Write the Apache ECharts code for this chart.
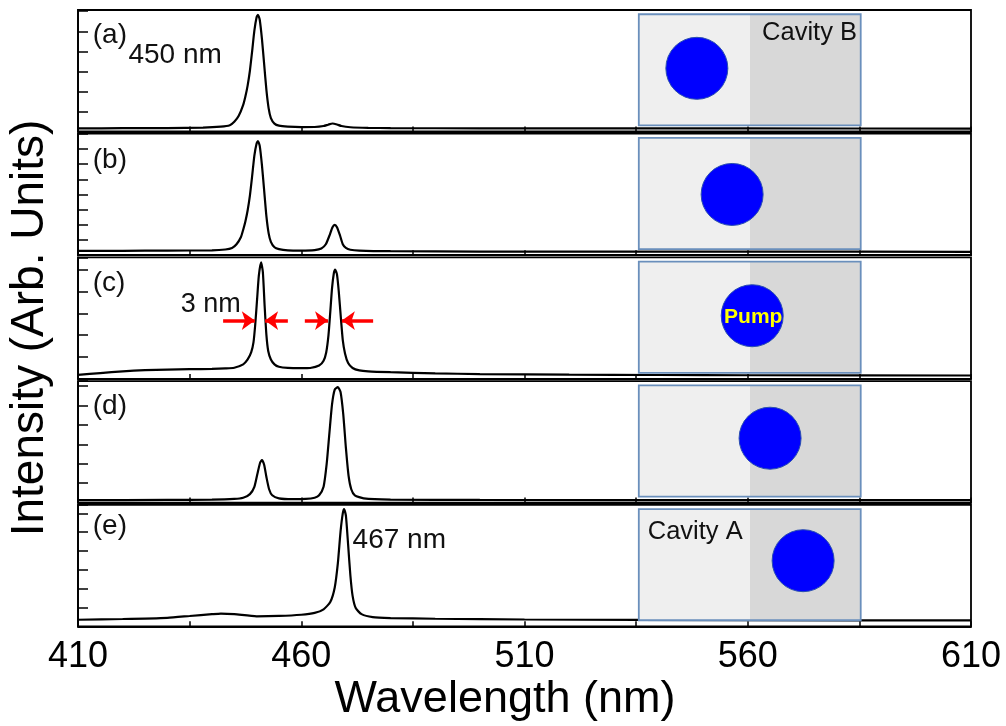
<!DOCTYPE html>
<html>
<head>
<meta charset="utf-8">
<script src="https://cdn.jsdelivr.net/npm/echarts@6/dist/echarts.min.js"></script>
<style>
  html, body { margin: 0; padding: 0; background: #fff; }
  #main { width: 1006px; height: 726px; }
</style>
</head>
<body>
<div id="main"></div>
<script>
// 光谱数据 (读图估计, 归一化强度)
var waveA = [410, 420, 430, 438, 442, 444, 445, 446, 447, 447.5, 448, 448.5, 449, 449.5, 450, 450.3, 450.7, 451.2, 451.7, 452.2, 452.7, 453.2, 454, 455, 457, 460, 463, 465, 466, 467, 468, 469, 471, 475, 480, 500, 530, 560, 610];
var intA  = [0.025, 0.027, 0.028, 0.032, 0.04, 0.052, 0.08, 0.13, 0.22, 0.29, 0.38, 0.5, 0.66, 0.83, 0.94, 0.96, 0.92, 0.76, 0.55, 0.34, 0.19, 0.11, 0.065, 0.048, 0.04, 0.036, 0.037, 0.045, 0.056, 0.066, 0.058, 0.045, 0.035, 0.03, 0.028, 0.026, 0.025, 0.025, 0.024];

var waveB = [410, 420, 430, 440, 443, 444.5, 445.5, 446.5, 447, 447.5, 448, 448.5, 449, 449.5, 450, 450.3, 450.7, 451.2, 451.7, 452.2, 452.7, 453.2, 454, 455, 457, 460, 463, 464.5, 465.5, 466.3, 467, 467.5, 468, 468.7, 469.3, 470, 471, 473, 480, 500, 530, 560, 610];
var intB  = [0.035, 0.036, 0.038, 0.04, 0.047, 0.06, 0.09, 0.15, 0.21, 0.28, 0.37, 0.49, 0.65, 0.82, 0.92, 0.94, 0.9, 0.74, 0.53, 0.32, 0.18, 0.11, 0.065, 0.05, 0.04, 0.038, 0.042, 0.055, 0.09, 0.16, 0.23, 0.25, 0.23, 0.16, 0.09, 0.06, 0.045, 0.038, 0.033, 0.03, 0.03, 0.03, 0.028];

var waveC = [410, 415, 420, 425, 430, 435, 440, 443, 445, 447, 448, 448.8, 449.3, 449.7, 450.1, 450.5, 451, 451.4, 451.8, 452.2, 452.6, 453.2, 454, 455, 457, 460, 462, 464, 465, 465.6, 466.1, 466.5, 466.9, 467.3, 467.6, 468, 468.4, 468.9, 469.3, 469.8, 470.5, 471.5, 473, 475, 480, 490, 500, 520, 540, 560, 610];
var intC  = [0.033, 0.048, 0.062, 0.072, 0.077, 0.08, 0.082, 0.086, 0.092, 0.12, 0.16, 0.22, 0.3, 0.45, 0.65, 0.85, 0.96, 0.88, 0.6, 0.36, 0.23, 0.16, 0.12, 0.1, 0.09, 0.088, 0.09, 0.11, 0.15, 0.22, 0.36, 0.55, 0.75, 0.87, 0.9, 0.86, 0.72, 0.49, 0.32, 0.21, 0.13, 0.09, 0.07, 0.062, 0.055, 0.045, 0.04, 0.035, 0.032, 0.03, 0.028];

var waveD = [410, 430, 440, 445, 447, 448.5, 449.5, 450.2, 450.8, 451.2, 451.7, 452.2, 452.8, 453.5, 455, 458, 461, 463, 464, 465, 465.7, 466.3, 466.9, 467.5, 468.2, 468.8, 469.4, 470, 470.6, 471.2, 472, 474, 480, 500, 560, 610];
var intD  = [0.02, 0.022, 0.024, 0.03, 0.04, 0.07, 0.13, 0.24, 0.33, 0.35, 0.31, 0.21, 0.11, 0.06, 0.035, 0.028, 0.03, 0.04, 0.06, 0.13, 0.32, 0.57, 0.81, 0.93, 0.95, 0.91, 0.73, 0.45, 0.22, 0.11, 0.06, 0.035, 0.025, 0.022, 0.02, 0.02];

var waveE = [410, 420, 430, 435, 440, 442, 445, 450, 455, 460, 463, 465, 466.5, 467.5, 468.2, 468.8, 469.3, 469.6, 470, 470.5, 471, 471.5, 472.2, 473.5, 476, 480, 490, 510, 560, 610];
var intE  = [0.054, 0.06, 0.07, 0.085, 0.1, 0.105, 0.1, 0.082, 0.085, 0.095, 0.11, 0.14, 0.2, 0.32, 0.52, 0.78, 0.93, 0.965, 0.91, 0.67, 0.42, 0.25, 0.15, 0.1, 0.075, 0.068, 0.062, 0.056, 0.05, 0.048];

var panelNames = ['(a)', '(b)', '(c)', '(d)', '(e)'];
var xTicks = [410, 460, 510, 560, 610];
var yTickStep = [0.165, 0.125, 0.18, 0.16, 0.155];

// 插图 (腔体示意) 位置, 单位: nm / 归一化强度
var insetX = [535.6, 560.5, 585.3];
var insetY = [0.05, 0.965];
var pumpX = [548.6, 556.5, 561, 565, 572.4];
var pumpY = [0.52, 0.5, 0.52, 0.53, 0.54];

// 半高宽箭头
var arrowFrom = [442.5, 457, 460.8, 476.1];
var arrowTo = [449.6, 451.9, 466, 469.1];
var arrowY = 0.48;

var FONT = 'Liberation Sans, Arial, sans-serif';
var waves = [waveA, waveB, waveC, waveD, waveE];
var ints = [intA, intB, intC, intD, intE];

var chart = echarts.init(document.getElementById('main'));

var grids = [], xAxes = [], yAxes = [], series = [];
for (var i = 0; i < 5; i++) {
  var last = i === 4;
  grids.push({
    left: 78, right: 35, top: 10 + 123.7 * i, height: 121.5,
    show: true, borderColor: '#000', borderWidth: 1.8, backgroundColor: 'transparent'
  });
  xAxes.push({
    type: 'value', gridIndex: i, min: 410, max: 610, interval: 25,
    axisLine: { show: true, lineStyle: { color: '#000', width: 1.8 } },
    axisTick: { show: true, inside: true, length: 5, lineStyle: { color: '#000', width: 1.5 } },
    splitLine: { show: false },
    axisLabel: {
      show: last, margin: 13, color: '#000', fontSize: 36, fontFamily: FONT,
      formatter: function (v) { return xTicks.indexOf(v) >= 0 ? String(v) : ''; }
    }
  });
  yAxes.push({
    type: 'value', gridIndex: i, min: 0, max: 1, interval: yTickStep[i],
    axisLine: { show: true, lineStyle: { color: '#000', width: 1.8 } },
    axisTick: { show: true, inside: true, length: 10, lineStyle: { color: '#000', width: 1.5 } },
    axisLabel: { show: false },
    splitLine: { show: false }
  });
  var pts = [];
  for (var k = 0; k < waves[i].length; k++) pts.push([waves[i][k], ints[i][k]]);
  var s = {
    type: 'line', xAxisIndex: i, yAxisIndex: i, data: pts,
    showSymbol: false, symbol: 'none', smooth: 0.2,
    lineStyle: { color: '#000', width: 2.2 }, z: 3
  };
  if (i === 2) {
    var lines = [];
    for (var a = 0; a < arrowFrom.length; a++) {
      lines.push([{ coord: [arrowFrom[a], arrowY] }, { coord: [arrowTo[a], arrowY] }]);
    }
    s.markLine = {
      silent: true, symbol: ['none', 'arrow'], symbolSize: [14, 13],
      label: { show: false },
      lineStyle: { color: '#ff0000', width: 3.5, type: 'solid' },
      emphasis: { disabled: true },
      data: lines
    };
  }
  series.push(s);
}

chart.setOption({
  animation: false,
  backgroundColor: '#fff',
  grid: grids, xAxis: xAxes, yAxis: yAxes, series: series
});

function px(i, x, y) {
  return chart.convertToPixel({ gridIndex: i }, [x, y]);
}

function label(i, x, y, text, size, extra) {
  var p = px(i, x, y);
  var st = { text: text, fill: '#111', font: size + 'px ' + FONT, textVerticalAlign: 'middle' };
  for (var key in extra) st[key] = extra[key];
  return { type: 'text', x: p[0], y: p[1], style: st, z: 20 };
}

var gfx = [];
for (var i = 0; i < 5; i++) {
  var tl = px(i, insetX[0], insetY[1]);
  var tm = px(i, insetX[1], insetY[1]);
  var br = px(i, insetX[2], insetY[0]);
  gfx.push({ type: 'rect', shape: { x: tl[0], y: tl[1], width: br[0] - tl[0], height: br[1] - tl[1] },
    style: { fill: '#efefef' }, z: 10 });
  gfx.push({ type: 'rect', shape: { x: tm[0], y: tm[1], width: br[0] - tm[0], height: br[1] - tm[1] },
    style: { fill: '#d8d8d8' }, z: 11 });
  gfx.push({ type: 'rect', shape: { x: tl[0], y: tl[1], width: br[0] - tl[0], height: br[1] - tl[1] },
    style: { fill: null, stroke: '#6a8fbc', lineWidth: 1.8 }, z: 12 });
  var c = px(i, pumpX[i], pumpY[i]);
  gfx.push({ type: 'circle', shape: { cx: c[0], cy: c[1], r: 31 },
    style: { fill: '#0000ff', stroke: '#2a4fb0', lineWidth: 1 }, z: 13 });
  if (i === 2) {
    gfx.push({ type: 'text', x: c[0] + 1, y: c[1] + 1,
      style: { text: 'Pump', fill: '#ffff00', font: 'bold 21px ' + FONT, textAlign: 'center', textVerticalAlign: 'middle' }, z: 14 });
  }
  gfx.push(label(i, 413.3, [0.79, 0.785, 0.79, 0.79, 0.82][i], panelNames[i], 28));
}
gfx.push(label(0, 421.3, 0.63, '450 nm', 28));
gfx.push(label(4, 471.5, 0.71, '467 nm', 28));
gfx.push(label(2, 433, 0.61, '3 nm', 27));
gfx.push(label(0, 563.2, 0.81, 'Cavity B', 25.5));
gfx.push(label(4, 537.6, 0.78, 'Cavity A', 25.5));
gfx.push({ type: 'text', x: 30, y: 328, rotation: Math.PI / 2,
  style: { text: 'Intensity (Arb. Units)', fill: '#000', font: '46px ' + FONT, textAlign: 'center', textVerticalAlign: 'middle' }, z: 20 });
gfx.push({ type: 'text', x: 505, y: 700,
  style: { text: 'Wavelength (nm)', fill: '#000', font: '45px ' + FONT, textAlign: 'center', textVerticalAlign: 'middle' }, z: 20 });

chart.setOption({ graphic: gfx });
</script>
</body>
</html>
